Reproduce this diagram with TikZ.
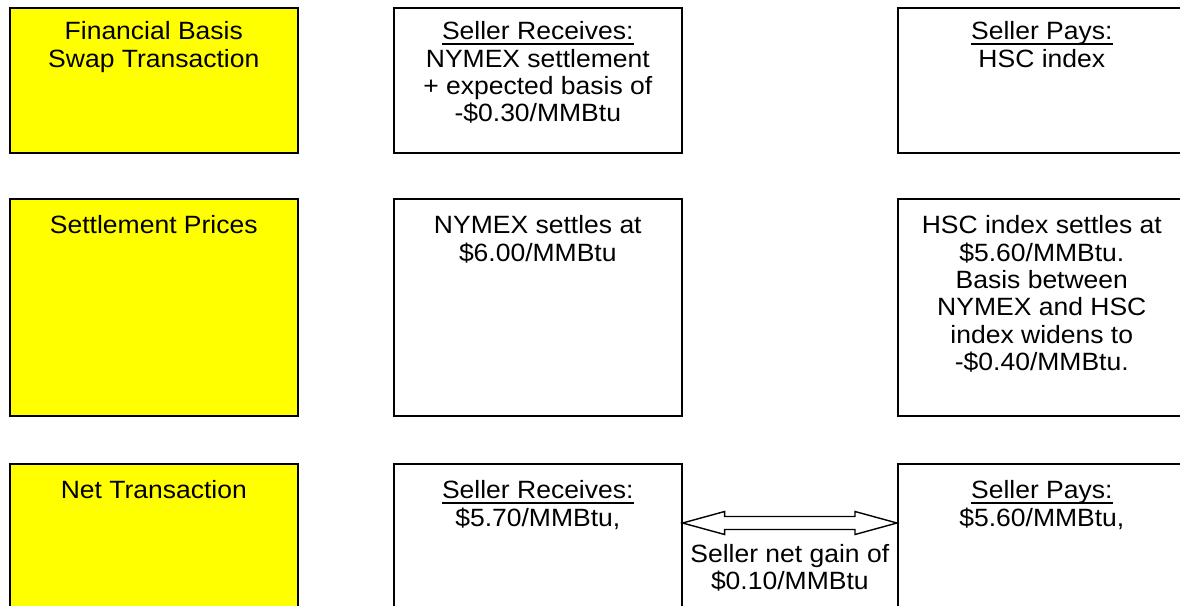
\documentclass[tikz,border=0pt]{standalone}
\usepackage{fontspec}
\setmainfont{Liberation Sans}[FakeStretch=1.06]
\usetikzlibrary{calc}
\definecolor{yel}{RGB}{255,255,0}
\newcommand\myul[1]{\leavevmode\setbox0\hbox{#1}\rlap{\rule[-5pt]{\wd0}{1.6pt}}\box0}
\begin{document}
\begin{tikzpicture}[x=1pt,y=-1pt,
  box/.style={draw=black, line width=1.6pt, minimum width=288pt, anchor=north west, inner sep=0pt},
  ybox/.style={box, fill=yel},
  txt/.style={anchor=north, align=center, inner sep=0pt, font=\fontsize{25}{27.3}\selectfont},
  dblarrow/.style={draw=black, line width=1.4pt, fill=white}]
\useasboundingbox (0,0) rectangle (1180,605);
\clip (0,0) rectangle (1180,605);
% row 1
\node[ybox, minimum height=145pt] (l1) at (9,7) {};
\node[box, minimum height=145pt] (m1) at (393,7) {};
\node[box, minimum height=145pt] (r1) at (897,7) {};
% row 2
\node[ybox, minimum height=217pt] (l2) at (9,198) {};
\node[box, minimum height=217pt] (m2) at (393,198) {};
\node[box, minimum height=217pt] (r2) at (897,198) {};
% row 3
\node[ybox, minimum height=170pt] (l3) at (9,463) {};
\node[box, minimum height=170pt] (m3) at (393,463) {};
\node[box, minimum height=170pt] (r3) at (897,463) {};
% texts
\node[txt] (tl1) at ($(l1.north)+(0,14.5)$) {Financial Basis\\Swap Transaction};
\node[txt] (tm1) at ($(m1.north)+(0,14.5)$) {\myul{Seller Receives:}\\NYMEX settlement\\+ expected basis of\\-\$0.30/MMBtu};
\node[txt] (tr1) at ($(r1.north)+(0,14.5)$) {\myul{Seller Pays:}\\HSC index};
\node[txt] (tl2) at ($(l2.north)+(0,17.5)$) {Settlement Prices};
\node[txt] (tm2) at ($(m2.north)+(0,17.5)$) {NYMEX settles at\\\$6.00/MMBtu};
\node[txt] (tr2) at ($(r2.north)+(0,17.5)$) {HSC index settles at\\\$5.60/MMBtu.\\Basis between\\NYMEX and HSC\\index widens to\\-\$0.40/MMBtu.};
\node[txt] (tl3) at ($(l3.north)+(0,17.5)$) {Net Transaction};
\node[txt] (tm3) at ($(m3.north)+(0,17.5)$) {\myul{Seller Receives:}\\\$5.70/MMBtu,};
\node[txt] (tr3) at ($(r3.north)+(0,17.5)$) {\myul{Seller Pays:}\\\$5.60/MMBtu,};
% arrow
\coordinate (aL) at ($(m3.north east)+(0,60)$);
\coordinate (aR) at ($(r3.north west)+(0,60)$);
\draw[dblarrow] (aL) -- ++(42,-11.5) -- ++(0,5) -- ($(aR)+(-42,-6.5)$) -- ++(0,-5) -- (aR)
  -- ++(-42,11.5) -- ++(0,-5) -- ($(aL)+(42,6.5)$) -- ++(0,5) -- cycle;
\node[txt] (gain) at ($(aL)!0.5!(aR)+(0,21)$) {Seller net gain of\\\$0.10/MMBtu};
\end{tikzpicture}
\end{document}
